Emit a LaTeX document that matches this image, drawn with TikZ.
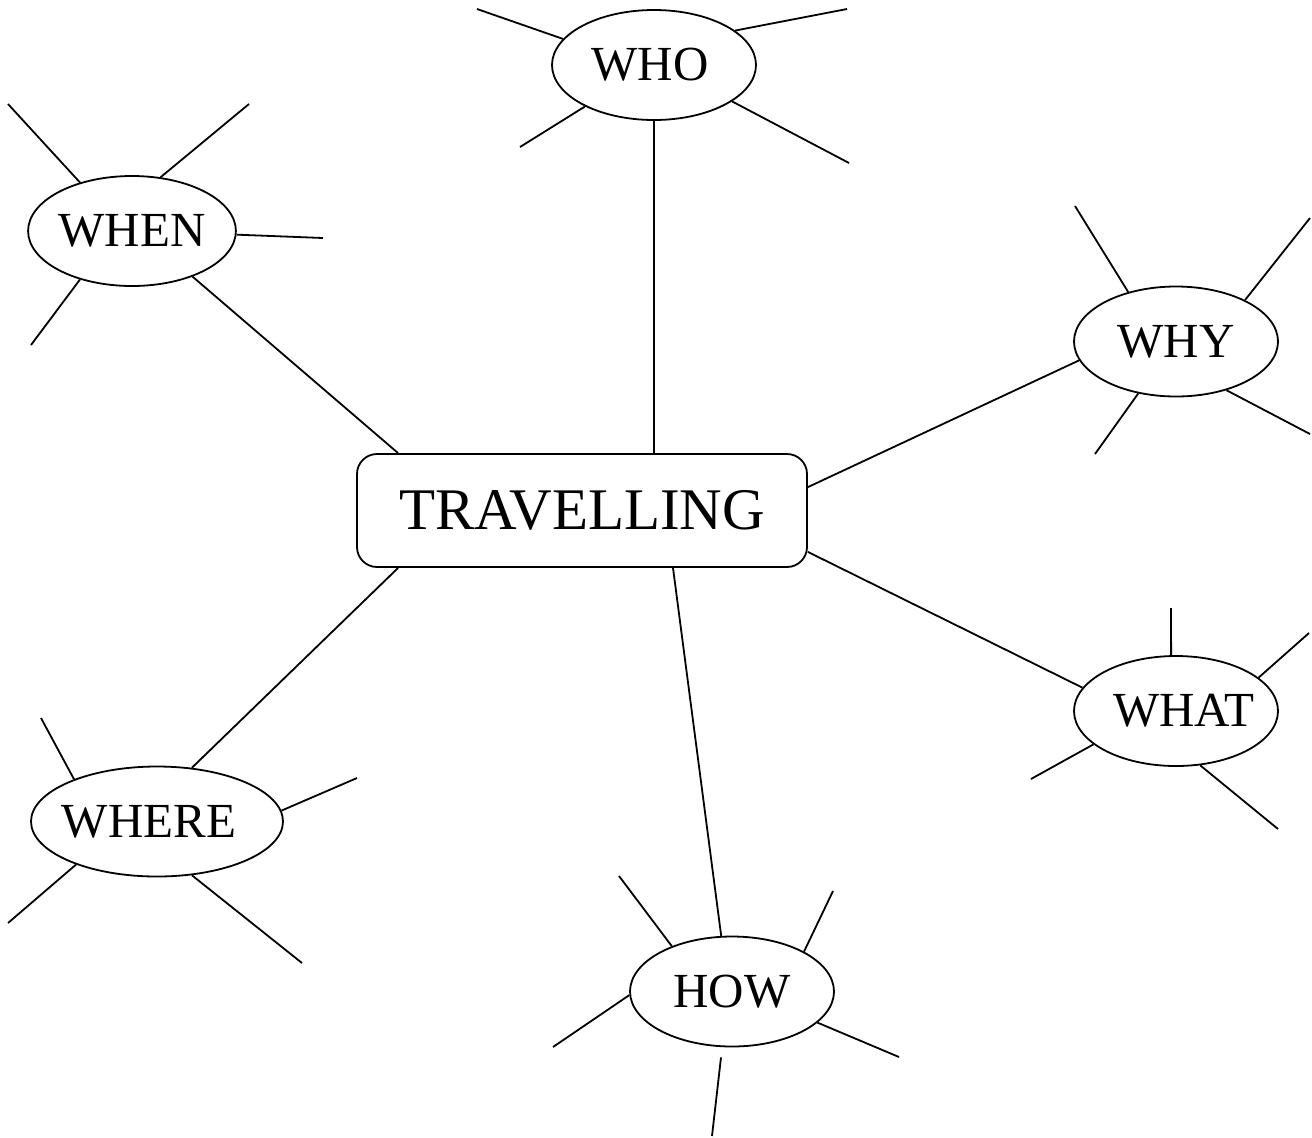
\documentclass[tikz,border=0pt]{standalone}
\usepackage{fontspec}
\setmainfont{Liberation Serif}
\usetikzlibrary{shapes.geometric}

\begin{document}
\begin{tikzpicture}[x=0.5pt,y=-0.5pt,line width=0.9pt,
    topic/.style={ellipse,draw,inner sep=0pt,minimum width=102pt,minimum height=55pt,
        font=\fontsize{24.5}{28}\selectfont},
    hub/.style={rectangle,draw,rounded corners=10pt,inner sep=0pt,
        minimum width=225pt,minimum height=56.5pt,font=\fontsize{29.5}{33}\selectfont}]

        \useasboundingbox (0,0) rectangle (1312,1137);

        \node[hub] (TRAV) at (582, 510.5) { TRAVELLING };

        \node[topic] (WHO) at (654, 65) { \makebox[0pt]{WHO\hspace{4pt}} };
        \node[topic] (WHEN) at (132, 231) { WHEN };
        \node[topic] (WHY) at (1176, 341.5) { WHY };
        \node[topic] (WHAT) at (1176, 711) { \makebox[0pt]{\hspace{8pt}WHAT} };
        \node[topic] (HOW) at (732, 991.5) { HOW };
        \node[topic,minimum width=126pt] (WHERE) at (157, 821.5) { \makebox[0pt]{WHERE\hspace{8pt}} };

        \draw (WHO.south) -- (WHO.south |- TRAV.north);
        \draw (WHEN.323) -- ([shift={(42,0)}]TRAV.north west);
        \draw (WHY.191.5) -- ([shift={(0,34)}]TRAV.north east);
        \draw (WHAT.166) -- ([shift={(0,-16)}]TRAV.south east);
        \draw (WHERE.57) -- ([shift={(42,0)}]TRAV.south west);
        \draw (HOW.101.2) -- ([shift={(91,0)}]TRAV.south);

        % free ends of the short rays
        \coordinate (who1) at (477, 9);
        \coordinate (who2) at (847, 9);
        \coordinate (who3) at (520, 147);
        \coordinate (who4) at (849, 163);
        \coordinate (when1) at (8, 104);
        \coordinate (when2) at (249, 104);
        \coordinate (when3) at (323, 238);
        \coordinate (when4) at (31, 345);
        \coordinate (why1) at (1075, 206);
        \coordinate (why2) at (1310, 218);
        \coordinate (why3) at (1095, 454);
        \coordinate (why4) at (1310, 434);
        \coordinate (what1) at (1171, 608);
        \coordinate (what2) at (1309, 633);
        \coordinate (what3) at (1031, 779);
        \coordinate (what4) at (1278, 829);
        \coordinate (how1) at (619, 876);
        \coordinate (how2) at (833, 891);
        \coordinate (how3) at (553, 1047);
        \coordinate (how4) at (899, 1057);
        \coordinate (how5) at (712, 1136);
        \coordinate (where1) at (41, 718);
        \coordinate (where2) at (357, 778);
        \coordinate (where3) at (8, 923);
        \coordinate (where4) at (302, 963);

        \draw (WHO.164) -- (who1);
        \draw (WHO.23) -- (who2);
        \draw (WHO.211) -- (who3);
        \draw (WHO.335) -- (who4);

        \draw (WHEN.137.5) -- (when1);
        \draw (WHEN.62.6) -- (when2);
        \draw (WHEN.358) -- (when3);
        \draw (WHEN.223.5) -- (when4);

        \draw (WHY.134.2) -- (why1);
        \draw (WHY.31.3) -- (why2);
        \draw (WHY.234.9) -- (why3);
        \draw (WHY.316.3) -- (why4);

        \draw (WHAT.95.2) -- (what1);
        \draw (WHAT.22.5) -- (what2);
        \draw (WHAT.202.5) -- (what3);
        \draw (WHAT.294) -- (what4);

        \draw (HOW.143.6) -- (how1);
        \draw (HOW.29.5) -- (how2);
        \draw (HOW.182) -- (how3);
        \draw (HOW.340.5) -- (how4);
        \draw ([shift={(-11,10)}]HOW.south) -- (how5);

        \draw (WHERE.153.2) -- (where1);
        \draw (WHERE.5.2) -- (where2);
        \draw (WHERE.208.4) -- (where3);
        \draw (WHERE.303) -- (where4);

    \end{tikzpicture}
\end{document}
